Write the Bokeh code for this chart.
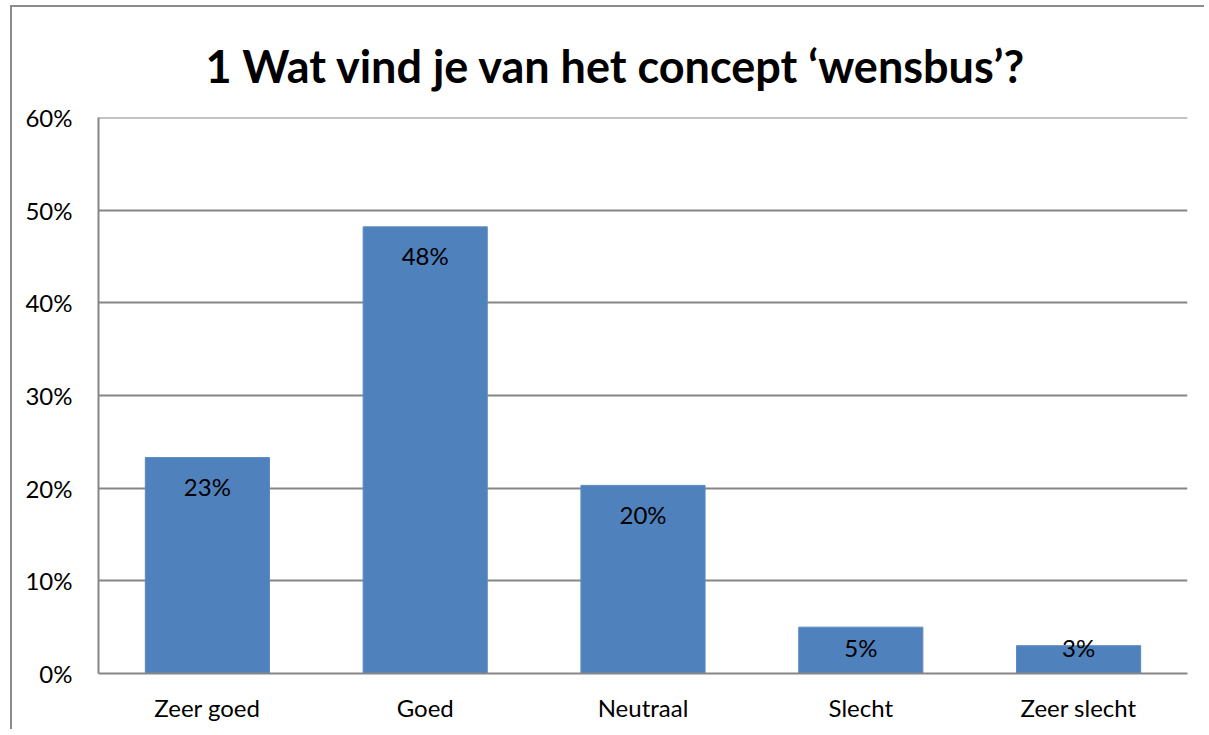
from bokeh.plotting import figure
from bokeh.models import ColumnDataSource, NumeralTickFormatter, FixedTicker, Range1d, Span
from bokeh.core.properties import value
from bokeh.embed import file_html
from bokeh.resources import INLINE
import numpy as np

title = "1 Wat vind je van het concept \u2018wensbus\u2019?"
categories = ["Zeer goed", "Goed", "Neutraal", "Slecht", "Zeer slecht"]
percentages = [23.3, 48.2, 20.3, 5.0, 3.0]
labels = ["23%", "48%", "20%", "5%", "3%"]
y_ticks = [0, 10, 20, 30, 40, 50, 60]

FONT = "Lato"
vals = np.array(percentages) / 100.0
label_y = np.maximum(vals - 0.0313, 0.028)

src = ColumnDataSource(dict(cat=categories, val=vals, lab=labels, ly=label_y))

p = figure(x_range=categories, y_range=Range1d(0, 0.6), width=1194, height=724,
           output_backend="svg", toolbar_location=None,
           min_border_left=86, min_border_right=19, min_border_top=110, min_border_bottom=58)
p.styles = {"margin-left": "10px", "margin-top": "5px",
            "border-left": "2px solid #8c8c8c", "border-top": "2px solid #8c8c8c"}
p.title.text = title
p.title.text_font = FONT
p.title.text_font_size = "45px"
p.title.text_font_style = "bold"
p.title.text_color = "#000000"
p.title.align = "left"
p.title.offset = 107
p.title.standoff = 50

p.vbar(x="cat", top="val", width=0.57, source=src, fill_color="#4f81bd", line_color="#5b8ac2", line_width=1)
p.text(x="cat", y="ly", text="lab", source=src, text_align="center", text_baseline="middle",
       text_font=value(FONT), text_font_size="24px", text_color="#000000")

p.yaxis.ticker = FixedTicker(ticks=[t / 100 for t in y_ticks])
p.yaxis.formatter = NumeralTickFormatter(format="0%")
p.xaxis.major_label_text_font = FONT
p.yaxis.major_label_text_font = FONT
p.xaxis.major_label_text_font_size = "24px"
p.yaxis.major_label_text_font_size = "24px"
p.xaxis.major_label_text_color = "#000000"
p.yaxis.major_label_text_color = "#000000"
p.xaxis.major_label_standoff = 13
p.yaxis.major_label_standoff = 20
for ax in (p.xaxis, p.yaxis):
    ax.major_tick_line_color = None
    ax.minor_tick_line_color = None
    ax.axis_line_color = "#868686"
    ax.axis_line_width = 2
p.xgrid.grid_line_color = None
p.ygrid.grid_line_color = "#868686"
p.ygrid.grid_line_width = 2
p.add_layout(Span(location=y_ticks[-1] / 100, dimension="width", line_color="#868686", line_width=2))
p.outline_line_color = None
p.x_range.range_padding = 0

open("out.html", "w").write(file_html(p, INLINE))
